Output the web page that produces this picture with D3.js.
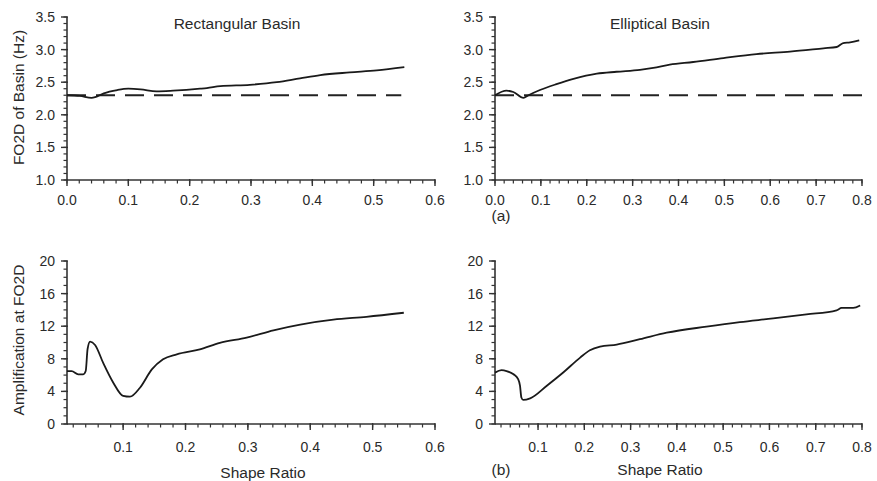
<!DOCTYPE html>
<html><head><meta charset="utf-8">
<script src="https://cdn.jsdelivr.net/npm/d3@7"></script>
<style>body{margin:0;background:#fff}svg{display:block}text{font-family:"Liberation Sans",Arial,sans-serif;fill:#2a2a2a}</style>
</head><body><svg id="c" width="877" height="481"></svg>
<script>
// ---- data ----
const baseF = 2.30;
const rectFreqX = [0,0.021,0.04,0.046,0.06,0.082,0.1,0.12,0.146,0.173,0.217,0.228,0.25,0.298,0.342,0.38,0.413,0.461,0.505,0.55];
const rectFreqY = [2.30,2.29,2.26,2.27,2.33,2.38,2.40,2.39,2.36,2.37,2.40,2.41,2.44,2.46,2.50,2.56,2.61,2.65,2.68,2.73];
const ellFreqX = [0,0.025,0.04,0.062,0.073,0.098,0.134,0.171,0.222,0.265,0.316,0.345,0.381,0.432,0.498,0.57,0.643,0.716,0.745,0.759,0.774,0.794];
const ellFreqY = [2.30,2.37,2.35,2.26,2.30,2.38,2.47,2.55,2.63,2.66,2.69,2.72,2.77,2.81,2.87,2.93,2.97,3.02,3.04,3.10,3.11,3.14];
const rectAmpX = [0.01,0.0175,0.028,0.036,0.040,0.043,0.047,0.055,0.068,0.084,0.1,0.111,0.127,0.146,0.164,0.186,0.223,0.255,0.298,0.341,0.384,0.437,0.49,0.55];
const rectAmpY = [6.5,6.5,6.1,6.1,6.5,9.2,10.1,9.7,7.5,5.1,3.45,3.35,4.45,6.7,7.95,8.55,9.15,9.95,10.6,11.5,12.2,12.8,13.15,13.65];
const ellAmpX = [0.007,0.021,0.032,0.047,0.057,0.061,0.064,0.068,0.083,0.119,0.155,0.191,0.212,0.234,0.27,0.32,0.378,0.464,0.536,0.608,0.68,0.745,0.756,0.781,0.796];
const ellAmpY = [6.3,6.6,6.5,6.1,5.5,4.7,3.25,2.95,3.15,4.7,6.35,8.15,9.05,9.5,9.75,10.4,11.2,11.95,12.5,12.95,13.45,13.95,14.25,14.25,14.55];
const freqTicks = [1.0,1.5,2.0,2.5,3.0,3.5];
const ampTicks = [0,4,8,12,16,20];
const xTicksRect = [0,0.1,0.2,0.3,0.4,0.5,0.6];
const xTicksEll = [0,0.1,0.2,0.3,0.4,0.5,0.6,0.7,0.8];

const svg = d3.select("#c");
svg.append("rect").attr("width",877).attr("height",481).attr("fill","#fff");

function panel(o){
  const g = svg.append("g");
  const x = d3.scaleLinear().domain(o.xd).range([o.x0,o.x1]);
  const y = d3.scaleLinear().domain(o.yd).range([o.y0,o.y1]);
  const col="#333";
  const xm = d3.range(Math.ceil(o.xd[0]/0.02-1e-9), Math.floor(o.xd[1]/0.02+1e-9)+1).map(i=>i*0.02);
  g.selectAll(".xm").data(xm).join("line").attr("x1",d=>x(d)).attr("x2",d=>x(d))
    .attr("y1",o.y0).attr("y2",o.y0+3.5).attr("stroke",col).attr("stroke-width",1.2);
  const ym = d3.range(Math.round(o.yd[0]/o.ymin), Math.round(o.yd[1]/o.ymin)+1).map(i=>i*o.ymin);
  g.selectAll(".ym").data(ym).join("line").attr("y1",d=>y(d)).attr("y2",d=>y(d))
    .attr("x1",o.x0).attr("x2",o.x0-3.5).attr("stroke",col).attr("stroke-width",1.2);
  const xt = o.xt.filter(d=>d>=o.xd[0]-1e-9);
  g.selectAll(".xM").data(xt).join("line").attr("x1",d=>x(d)).attr("x2",d=>x(d))
    .attr("y1",o.y0-1).attr("y2",o.y0+6).attr("stroke",col).attr("stroke-width",1.4);
  g.selectAll(".yM").data(o.yt).join("line").attr("y1",d=>y(d)).attr("y2",d=>y(d))
    .attr("x1",o.x0+1).attr("x2",o.x0-6).attr("stroke",col).attr("stroke-width",1.4);
  g.append("line").attr("x1",o.x0).attr("x2",o.x1).attr("y1",o.y0).attr("y2",o.y0).attr("stroke",col).attr("stroke-width",1.6);
  g.append("line").attr("x1",o.x0).attr("x2",o.x0).attr("y1",o.y0).attr("y2",o.y1).attr("stroke",col).attr("stroke-width",1.6);
  g.selectAll(".xl").data(xt).join("text").attr("x",d=>x(d)).attr("y",o.y0+o.xlo)
    .attr("text-anchor","middle").attr("font-size",14).text(d=>d.toFixed(1));
  g.selectAll(".yl").data(o.yt).join("text").attr("x",o.x0-12).attr("y",d=>y(d)+5)
    .attr("text-anchor","end").attr("font-size",14).text(o.yf);
  if(o.dash){
    g.append("line").attr("x1",x(o.dash[0])).attr("x2",x(o.dash[1])).attr("y1",y(baseF)).attr("y2",y(baseF))
      .attr("stroke","#222").attr("stroke-width",2).attr("stroke-dasharray","19,10");
  }
  const data = o.dx.map((d,i)=>[d,o.dy[i]]);
  g.append("path").datum(data).attr("fill","none").attr("stroke","#1a1a1a").attr("stroke-width",1.8)
    .attr("d",d3.line().x(d=>x(d[0])).y(d=>y(d[1])).curve(d3.curveMonotoneX));
  return g;
}

panel({xd:[0,0.6],x0:67,x1:435,yd:[1,3.5],y0:180,y1:17,xt:xTicksRect,yt:freqTicks,ymin:0.1,yf:d=>d.toFixed(1),xlo:25,dash:[0,0.545],dx:rectFreqX,dy:rectFreqY});
panel({xd:[0,0.8],x0:495,x1:862,yd:[1,3.5],y0:180,y1:17,xt:xTicksEll,yt:freqTicks,ymin:0.1,yf:d=>d.toFixed(1),xlo:25,dash:[0,0.8],dx:ellFreqX,dy:ellFreqY});
panel({xd:[0.01,0.6],x0:67,x1:435,yd:[0,20],y0:424,y1:261,xt:xTicksRect,yt:ampTicks,ymin:1,yf:d=>d,xlo:28,dx:rectAmpX,dy:rectAmpY});
panel({xd:[0.007,0.8],x0:495,x1:862,yd:[0,20],y0:424,y1:261,xt:xTicksEll,yt:ampTicks,ymin:1,yf:d=>d,xlo:28,dx:ellAmpX,dy:ellAmpY});

svg.append("text").attr("x",237).attr("y",29).attr("text-anchor","middle").attr("font-size",15.5).text("Rectangular Basin");
svg.append("text").attr("x",660).attr("y",29).attr("text-anchor","middle").attr("font-size",15.5).text("Elliptical Basin");
svg.append("text").attr("transform","translate(24,97.5) rotate(-90)").attr("text-anchor","middle").attr("font-size",15.5).text("FO2D of Basin (Hz)");
svg.append("text").attr("transform","translate(24,340) rotate(-90)").attr("text-anchor","middle").attr("font-size",15.5).text("Amplification at FO2D");
svg.append("text").attr("x",263).attr("y",478).attr("text-anchor","middle").attr("font-size",15.5).text("Shape Ratio");
svg.append("text").attr("x",660).attr("y",475).attr("text-anchor","middle").attr("font-size",15.5).text("Shape Ratio");
svg.append("text").attr("x",501).attr("y",221).attr("text-anchor","middle").attr("font-size",15.5).text("(a)");
svg.append("text").attr("x",501).attr("y",475).attr("text-anchor","middle").attr("font-size",15.5).text("(b)");
</script></body></html>
